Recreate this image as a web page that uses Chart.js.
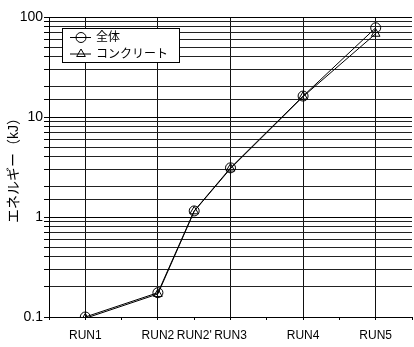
<!DOCTYPE html>
<html>
<head>
<meta charset="utf-8">
<script src="https://cdn.jsdelivr.net/npm/chart.js@4/dist/chart.umd.min.js"></script>
<style>
  html, body { margin: 0; padding: 0; background: #fff; overflow: hidden; }
  /* the canvas is a little wider than the view so the plot runs to the right edge,
     past the room Chart.js reserves for markers */
  #wrap { width: 414px; height: 347px; overflow: hidden; }
  canvas { display: block; }
</style>
</head>
<body>
<div id="wrap"><canvas id="c" width="420" height="347"></canvas></div>
<script>
// Test runs along the x axis (RUN2' sits halfway between RUN2 and RUN3)
const runNames = ['RUN1', 'RUN2', "RUN2'", 'RUN3', 'RUN4', 'RUN5'];
const runIndex = [1, 2, 2.5, 3, 4, 5];

// Absorbed energy (kJ)
const totalEnergy = [0.1, 0.175, 1.15, 3.1, 16.2, 78];
const concreteEnergy = [0.097, 0.17, 1.14, 3.05, 16.0, 68];

const seriesNames = ['全体', 'コンクリート'];
const yTickLabels = ['0.1', '1', '10', '100'];

const FONT = "'Liberation Sans', Arial, 'Noto Sans CJK JP', sans-serif";

function toPoints(values) {
  return values.map((v, i) => ({ x: runIndex[i], y: v }));
}

function isInt(v) { return Math.abs(v - Math.round(v)) < 1e-9; }
function isDecade(v) {
  const l = Math.log10(v);
  return Math.abs(l - Math.round(l)) < 1e-9;
}

// Boxed legend drawn inside the plot area, with a line through each marker
const insideLegend = {
  id: 'insideLegend',
  afterDatasetsDraw(chart) {
    const ctx = chart.ctx;
    const area = chart.chartArea;
    const x0 = area.left + 13, y0 = area.top + 11;
    const w = 117, h = 34;
    ctx.save();
    ctx.fillStyle = '#fff';
    ctx.fillRect(x0, y0, w, h);
    ctx.strokeStyle = '#000';
    ctx.lineWidth = 1;
    ctx.strokeRect(x0 + 0.5, y0 + 0.5, w, h);
    chart.data.datasets.forEach((ds, i) => {
      const cy = y0 + 9 + i * 16.5;
      ctx.strokeStyle = '#000';
      ctx.lineWidth = 1;
      ctx.beginPath();
      ctx.moveTo(x0 + 8, cy + 0.5);
      ctx.lineTo(x0 + 29, cy + 0.5);
      ctx.stroke();
      ctx.fillStyle = 'rgba(0,0,0,0)';
      Chart.helpers.drawPoint(ctx, {
        pointStyle: ds.pointStyle,
        radius: 5,
        borderWidth: 1,
        rotation: 0
      }, x0 + 19, cy + 0.5);
      ctx.fillStyle = '#000';
      ctx.font = '12px ' + FONT;
      ctx.textBaseline = 'middle';
      ctx.textAlign = 'left';
      ctx.fillText(ds.label, x0 + 34, cy + 1);
    });
    ctx.restore();
  }
};

new Chart(document.getElementById('c'), {
  type: 'line',
  data: {
    datasets: [
      {
        label: seriesNames[0],
        data: toPoints(totalEnergy),
        borderColor: '#000',
        backgroundColor: 'rgba(0,0,0,0)',
        borderWidth: 1,
        pointStyle: 'circle',
        pointRadius: 5,
        pointBorderColor: '#000',
        pointBackgroundColor: 'rgba(0,0,0,0)',
        pointBorderWidth: 1,
        tension: 0
      },
      {
        label: seriesNames[1],
        data: toPoints(concreteEnergy),
        borderColor: '#000',
        backgroundColor: 'rgba(0,0,0,0)',
        borderWidth: 1,
        pointStyle: 'triangle',
        pointRadius: 5,
        pointBorderColor: '#000',
        pointBackgroundColor: 'rgba(0,0,0,0)',
        pointBorderWidth: 1,
        tension: 0
      }
    ]
  },
  options: {
    responsive: false,
    animation: false,
    devicePixelRatio: 1,
    layout: {
      autoPadding: false,
      padding: { top: 17, right: 0, left: 0, bottom: 0 }
    },
    plugins: {
      legend: { display: false },
      tooltip: { enabled: false }
    },
    scales: {
      x: {
        type: 'linear',
        min: 0.5,
        max: 5.5,
        afterFit(scale) { scale.height = 30; },
        afterBuildTicks(scale) {
          const t = [];
          for (let v = 0.5; v <= 5.5 + 1e-9; v += 0.5) t.push({ value: v });
          scale.ticks = t;
        },
        ticks: {
          autoSkip: false,
          maxRotation: 0,
          padding: 8,
          color: '#000',
          font: { family: FONT, size: 12 },
          callback(v) {
            const i = runIndex.findIndex(r => Math.abs(r - v) < 1e-9);
            return i >= 0 ? runNames[i] : '';
          }
        },
        grid: {
          color(c) { return isInt(c.tick.value) ? '#111' : 'rgba(0,0,0,0)'; },
          tickColor: '#000',
          tickLength: 3,
          lineWidth: 1
        },
        border: { color: '#000', width: 1 }
      },
      y: {
        type: 'logarithmic',
        min: 0.1,
        max: 100,
        afterFit(scale) { scale.width = 49; },
        ticks: {
          autoSkip: false,
          padding: 1,
          color: '#000',
          font: { family: FONT, size: 14 },
          callback(v) {
            if (!isDecade(v)) return '';
            const s = String(Number(v.toPrecision(3)));
            return yTickLabels.includes(s) ? s : '';
          }
        },
        grid: {
          color(c) { return isDecade(c.tick.value) ? '#000' : '#222'; },
          tickColor: '#000',
          tickLength: 5,
          lineWidth: 1
        },
        border: { color: '#000', width: 1 },
        title: {
          display: true,
          text: 'エネルギー（kJ）',
          color: '#000',
          font: { family: FONT, size: 14 },
          padding: { top: 6, bottom: 0 }
        }
      }
    }
  },
  plugins: [insideLegend]
});
</script>
</body>
</html>
